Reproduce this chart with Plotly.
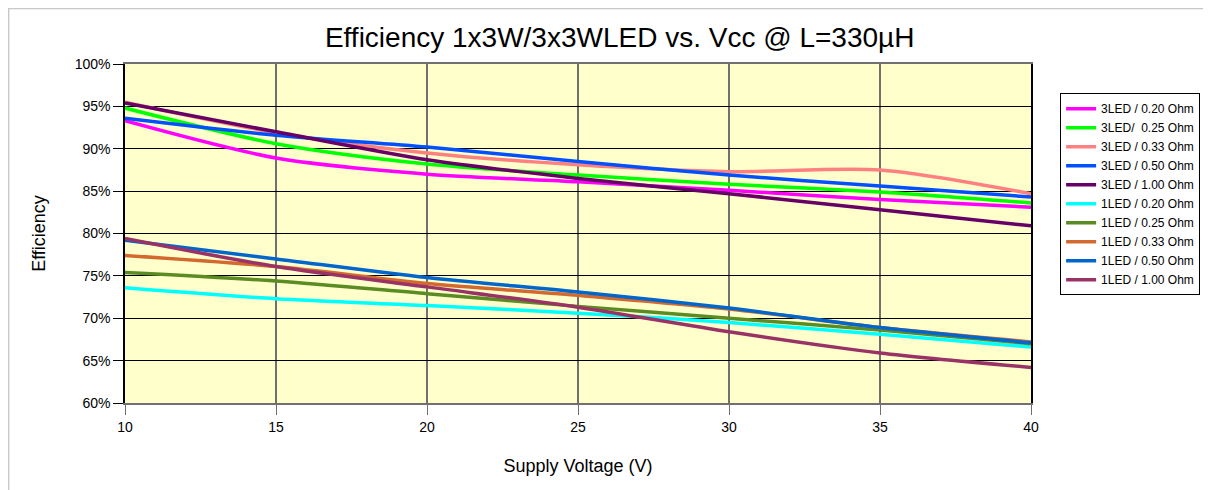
import plotly.graph_objects as go

vcc = [10, 15, 20, 25, 30, 35, 40]

names = ["3LED / 0.20 Ohm", "3LED/  0.25 Ohm", "3LED / 0.33 Ohm", "3LED / 0.50 Ohm",
         "3LED / 1.00 Ohm", "1LED / 0.20 Ohm", "1LED / 0.25 Ohm", "1LED / 0.33 Ohm",
         "1LED / 0.50 Ohm", "1LED / 1.00 Ohm"]

eff_3led_020 = [93.3, 88.9, 87.0, 86.1, 85.1, 84.0, 83.1]
eff_3led_025 = [94.8, 90.6, 88.2, 86.9, 85.8, 84.9, 83.6]
eff_3led_033 = [95.5, 91.9, 89.5, 88.1, 87.3, 87.5, 84.7]
eff_3led_050 = [93.6, 91.6, 90.2, 88.5, 86.9, 85.6, 84.3]
eff_3led_100 = [95.4, 92.0, 88.7, 86.5, 84.7, 82.8, 80.9]
eff_1led_020 = [73.6, 72.3, 71.5, 70.6, 69.5, 68.1, 66.6]
eff_1led_025 = [75.4, 74.4, 72.9, 71.4, 70.0, 68.6, 67.0]
eff_1led_033 = [77.4, 76.1, 74.1, 72.7, 71.1, 68.9, 67.2]
eff_1led_050 = [79.2, 77.0, 74.8, 73.1, 71.2, 68.9, 67.1]
eff_1led_100 = [79.4, 76.1, 73.7, 71.3, 68.4, 65.9, 64.2]

series = [eff_3led_020, eff_3led_025, eff_3led_033, eff_3led_050, eff_3led_100,
          eff_1led_020, eff_1led_025, eff_1led_033, eff_1led_050, eff_1led_100]

colors = ["#FF00FF", "#00FF00", "#FF8080", "#0050FF", "#660066",
          "#00FFFF", "#5B8C23", "#D2692E", "#0066CC", "#993366"]

y_ticks = [60, 65, 70, 75, 80, 85, 90, 95, 100]

fig = go.Figure()
for name, vals, col in zip(names, series, colors):
    fig.add_trace(go.Scatter(
        x=vcc, y=[v / 100 for v in vals], name=name, mode="lines",
        line=dict(color=col, width=3.5, shape="spline", smoothing=0.8),
    ))

font = "Liberation Sans, Arial, sans-serif"
fig.update_layout(
    width=1203, height=482,
    margin=dict(l=117, r=179, t=56, b=87),
    paper_bgcolor="white",
    plot_bgcolor="#FFFFCC",
    font=dict(family=font, size=14, color="black"),
    title=dict(text="Efficiency 1x3W/3x3WLED vs. Vcc @ L=330µH",
               x=0.546, xref="paper", xanchor="center", y=0.94, yanchor="middle",
               font=dict(family=font, size=28, color="black")),
    xaxis=dict(range=[10, 40], tickvals=vcc, showgrid=True, gridcolor="#707070",
               gridwidth=1.5, zeroline=False, showline=True, linecolor="#707070",
               linewidth=1.5, mirror=True, ticks="outside", ticklen=10,
               tickcolor="#707070", tickfont=dict(size=14),
               title=dict(text="Supply Voltage (V)", font=dict(size=18), standoff=26)),
    yaxis=dict(range=[0.6, 1.0], tickvals=[t / 100 for t in y_ticks],
               ticktext=[f"{t}%" for t in y_ticks],
               showgrid=True, gridcolor="#000000", gridwidth=1, zeroline=False,
               showline=True, linecolor="#000000", linewidth=1.5, mirror=True,
               ticks="outside", ticklen=10, tickcolor="#000000",
               tickfont=dict(size=14),
               title=dict(text="Efficiency", font=dict(size=18), standoff=24)),
    legend=dict(x=1.031, y=0.914, xanchor="left", yanchor="top",
                bgcolor="white", bordercolor="black", borderwidth=1,
                font=dict(size=12), itemwidth=30, tracegroupgap=0),
)
# light outer frame (left and top edges of the chart area)
fig.add_shape(type="line", xref="paper", yref="paper",
              x0=-116.5 / 907, x1=-116.5 / 907, y0=-87 / 339, y1=(339 + 56) / 339,
              line=dict(color="#C8C8C8", width=1.5))
fig.add_shape(type="line", xref="paper", yref="paper",
              x0=-117 / 907, x1=(907 + 179) / 907, y0=(339 + 55.5) / 339, y1=(339 + 55.5) / 339,
              line=dict(color="#C8C8C8", width=1.5))

fig.write_html("out.html")
